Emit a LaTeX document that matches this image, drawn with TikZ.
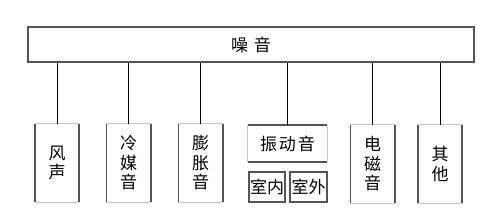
\documentclass[tikz,border=0pt]{standalone}
\usepackage{fontspec}
\setmainfont{Noto Sans CJK SC}
\usetikzlibrary{positioning,calc}
\definecolor{edgedark}{HTML}{555555}
\definecolor{edgelight}{HTML}{C8C8C8}

\tikzset{
  tallbox/.style={minimum width=44pt,minimum height=78pt,inner sep=0pt,
                  align=center,font=\fontsize{17}{19.5}\selectfont},
  widebox/.style={inner sep=0pt,font=\fontsize{17}{19}\selectfont},
  link/.style={black,line width=0.8pt}
}

\begin{document}
\begin{tikzpicture}[x=1pt,y=-1pt]
  \useasboundingbox (0,0) rectangle (500,222);
  % top box
  \node[draw=edgedark,line width=1.5pt,minimum width=446pt,minimum height=35pt,
        widebox] (noise) at (251,44.5) {噪\hspace{6pt}音};
  % sub boxes
  \node[tallbox] (wind)  at (57,163)    {风\\声};
  \node[tallbox] (cold)  at (128.5,163) {冷\\媒\\音};
  \node[tallbox] (expand) at (200.5,163) {膨\\胀\\音};
  \node[tallbox] (magnet) at (372.5,164) {电\\磁\\音};
  \node[tallbox] (other) at (440,164)   {其\\他};
  \node[widebox,minimum width=79pt,minimum height=37pt] (vibr) at (287.5,143.5)
    {振\hspace{2pt}动\hspace{2pt}音};
  \node[widebox,draw=edgedark,line width=1.8pt,minimum width=36pt,minimum height=30pt]
    (indoor) at (267,187) {室内};
  \node[widebox,draw=edgedark,line width=1.8pt,minimum width=37pt,minimum height=30pt]
    (outdoor) at (308.5,187) {室外};
  % borders: light top/bottom, dark sides
  \foreach \n in {wind,cold,expand,magnet,other}{
    \draw[edgelight,line width=1pt] (\n.north west) -- (\n.north east)
                                    (\n.south west) -- (\n.south east);
    \draw[edgedark,line width=1.6pt] (\n.north west) -- (\n.south west)
                                     (\n.north east) -- (\n.south east);
  }
  \draw[edgelight,line width=1pt] (vibr.north west) -- (vibr.south west)
                                  (vibr.north east) -- (vibr.south east);
  \draw[edgedark,line width=1.6pt] (vibr.north west) -- (vibr.north east)
                                   (vibr.south west) -- (vibr.south east);
  % connectors
  \foreach \n in {wind,cold,expand,vibr,magnet,other}
    \draw[link] (noise.south -| \n.north) -- (\n.north);
\end{tikzpicture}
\end{document}
